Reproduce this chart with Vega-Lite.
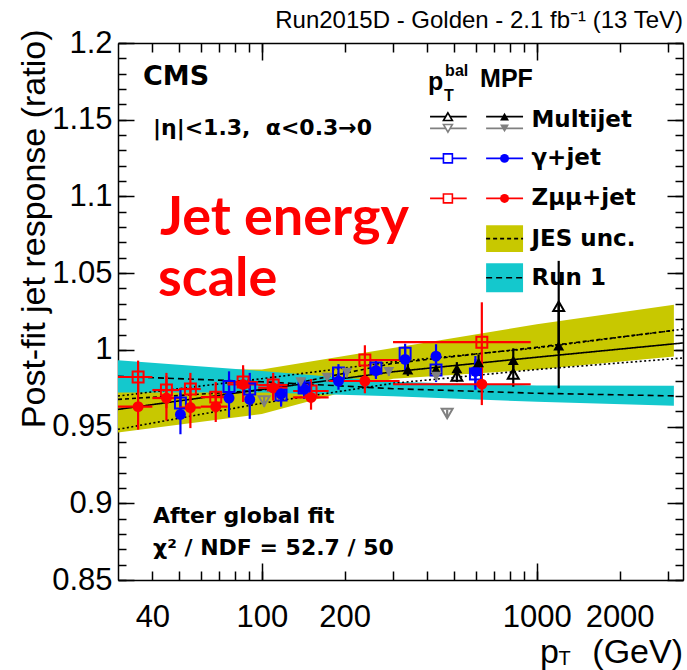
{
  "$schema": "https://vega.github.io/schema/vega-lite/v6.json",
  "autosize": {"type": "none"},
  "padding": {"left": 118, "top": 43, "right": 4, "bottom": 90},
  "width": 565,
  "height": 537,
  "title": {"text": "Run2015D - Golden - 2.1 fb⁻¹ (13 TeV)", "anchor": "end", "frame": "group", "orient": "top", "offset": -6, "fontSize": 24, "font": "Liberation Sans", "fontWeight": "normal", "color": "#000"},
  "config": {
    "view": {"stroke": null},
    "axis": {"grid": false, "domainColor": "#000", "domainWidth": 1.5, "tickColor": "#000", "tickWidth": 1.5, "labelFont": "Liberation Sans", "labelFontSize": 31, "labelColor": "#000", "titleFont": "Liberation Sans", "titleColor": "#000", "titleFontWeight": "normal", "labelOverlap": false, "labelFlush": false},
    "text": {"font": "Liberation Sans", "color": "#000"}
  },
  "datasets": {
    "points": [
      {"series": "Zμμ+jet", "method": "MPF", "pt": 35.5, "r": 0.963, "lo": 0.948, "hi": 0.978, "xlo": 30, "xhi": 40},
      {"series": "Zμμ+jet", "method": "MPF", "pt": 45, "r": 0.9686, "lo": 0.954, "hi": 0.983, "xlo": 40, "xhi": 50},
      {"series": "Zμμ+jet", "method": "MPF", "pt": 55, "r": 0.9624, "lo": 0.949, "hi": 0.975, "xlo": 50, "xhi": 60},
      {"series": "Zμμ+jet", "method": "MPF", "pt": 68, "r": 0.963, "lo": 0.953, "hi": 0.973, "xlo": 60, "xhi": 75},
      {"series": "Zμμ+jet", "method": "MPF", "pt": 85.5, "r": 0.9775, "lo": 0.966, "hi": 0.988, "xlo": 75, "xhi": 97},
      {"series": "Zμμ+jet", "method": "MPF", "pt": 110, "r": 0.9753, "lo": 0.967, "hi": 0.983, "xlo": 97, "xhi": 124},
      {"series": "Zμμ+jet", "method": "MPF", "pt": 151, "r": 0.969, "lo": 0.961, "hi": 0.977, "xlo": 130, "xhi": 175},
      {"series": "Zμμ+jet", "method": "MPF", "pt": 237, "r": 0.9797, "lo": 0.9717, "hi": 0.9877, "xlo": 175, "xhi": 317},
      {"series": "Zμμ+jet", "method": "MPF", "pt": 631, "r": 0.9776, "lo": 0.964, "hi": 0.9907, "xlo": 300, "xhi": 950},
      {"series": "Zμμ+jet", "method": "pTbal", "pt": 35.5, "r": 0.9823, "lo": 0.972, "hi": 0.993, "xlo": 30, "xhi": 40},
      {"series": "Zμμ+jet", "method": "pTbal", "pt": 45, "r": 0.9738, "lo": 0.962, "hi": 0.985, "xlo": 40, "xhi": 50},
      {"series": "Zμμ+jet", "method": "pTbal", "pt": 55, "r": 0.9745, "lo": 0.964, "hi": 0.985, "xlo": 50, "xhi": 60},
      {"series": "Zμμ+jet", "method": "pTbal", "pt": 68, "r": 0.9692, "lo": 0.959, "hi": 0.979, "xlo": 60, "xhi": 75},
      {"series": "Zμμ+jet", "method": "pTbal", "pt": 85.5, "r": 0.979, "lo": 0.968, "hi": 0.99, "xlo": 75, "xhi": 97},
      {"series": "Zμμ+jet", "method": "pTbal", "pt": 110, "r": 0.9771, "lo": 0.969, "hi": 0.985, "xlo": 97, "xhi": 124},
      {"series": "Zμμ+jet", "method": "pTbal", "pt": 151, "r": 0.9732, "lo": 0.965, "hi": 0.981, "xlo": 130, "xhi": 175},
      {"series": "Zμμ+jet", "method": "pTbal", "pt": 237, "r": 0.9934, "lo": 0.983, "hi": 1.003, "xlo": 175, "xhi": 317},
      {"series": "Zμμ+jet", "method": "pTbal", "pt": 631, "r": 1.005, "lo": 0.979, "hi": 1.031, "xlo": 300, "xhi": 950},
      {"series": "γ+jet", "method": "MPF", "pt": 50.6, "r": 0.9579, "lo": 0.945, "hi": 0.972, "xlo": null, "xhi": null},
      {"series": "γ+jet", "method": "MPF", "pt": 76, "r": 0.9686, "lo": 0.956, "hi": 0.981, "xlo": null, "xhi": null},
      {"series": "γ+jet", "method": "MPF", "pt": 90.4, "r": 0.9677, "lo": 0.955, "hi": 0.98, "xlo": null, "xhi": null},
      {"series": "γ+jet", "method": "MPF", "pt": 117.5, "r": 0.9712, "lo": 0.964, "hi": 0.978, "xlo": null, "xhi": null},
      {"series": "γ+jet", "method": "MPF", "pt": 142.5, "r": 0.9745, "lo": 0.968, "hi": 0.9807, "xlo": null, "xhi": null},
      {"series": "γ+jet", "method": "MPF", "pt": 190, "r": 0.9797, "lo": 0.974, "hi": 0.985, "xlo": null, "xhi": null},
      {"series": "γ+jet", "method": "MPF", "pt": 260, "r": 0.9865, "lo": 0.981, "hi": 0.991, "xlo": null, "xhi": null},
      {"series": "γ+jet", "method": "MPF", "pt": 332, "r": 0.9938, "lo": 0.9867, "hi": 1.0007, "xlo": null, "xhi": null},
      {"series": "γ+jet", "method": "MPF", "pt": 430, "r": 0.9959, "lo": 0.988, "hi": 1.0037, "xlo": null, "xhi": null},
      {"series": "γ+jet", "method": "MPF", "pt": 598, "r": 0.986, "lo": 0.976, "hi": 0.996, "xlo": null, "xhi": null},
      {"series": "γ+jet", "method": "pTbal", "pt": 50.6, "r": 0.9653, "lo": 0.955, "hi": 0.975, "xlo": null, "xhi": null},
      {"series": "γ+jet", "method": "pTbal", "pt": 76, "r": 0.9761, "lo": 0.966, "hi": 0.986, "xlo": null, "xhi": null},
      {"series": "γ+jet", "method": "pTbal", "pt": 90.4, "r": 0.9745, "lo": 0.964, "hi": 0.985, "xlo": null, "xhi": null},
      {"series": "γ+jet", "method": "pTbal", "pt": 117.5, "r": 0.9705, "lo": 0.963, "hi": 0.977, "xlo": null, "xhi": null},
      {"series": "γ+jet", "method": "pTbal", "pt": 142.5, "r": 0.9751, "lo": 0.968, "hi": 0.9817, "xlo": null, "xhi": null},
      {"series": "γ+jet", "method": "pTbal", "pt": 190, "r": 0.9849, "lo": 0.979, "hi": 0.9907, "xlo": null, "xhi": null},
      {"series": "γ+jet", "method": "pTbal", "pt": 260, "r": 0.9882, "lo": 0.982, "hi": 0.994, "xlo": null, "xhi": null},
      {"series": "γ+jet", "method": "pTbal", "pt": 332, "r": 0.9978, "lo": 0.991, "hi": 1.004, "xlo": null, "xhi": null},
      {"series": "γ+jet", "method": "pTbal", "pt": 430, "r": 0.9869, "lo": 0.979, "hi": 0.9947, "xlo": null, "xhi": null},
      {"series": "γ+jet", "method": "pTbal", "pt": 598, "r": 0.9843, "lo": 0.974, "hi": 0.994, "xlo": null, "xhi": null},
      {"series": "Multijet", "method": "MPF", "pt": 339.6, "r": 0.987, "lo": 0.983, "hi": 0.991, "xlo": null, "xhi": null},
      {"series": "Multijet", "method": "MPF", "pt": 430, "r": 0.9873, "lo": 0.984, "hi": 0.99, "xlo": null, "xhi": null},
      {"series": "Multijet", "method": "MPF", "pt": 512, "r": 0.9879, "lo": 0.984, "hi": 0.992, "xlo": null, "xhi": null},
      {"series": "Multijet", "method": "MPF", "pt": 614, "r": 0.9918, "lo": 0.986, "hi": 0.997, "xlo": null, "xhi": null},
      {"series": "Multijet", "method": "MPF", "pt": 821, "r": 0.9932, "lo": 0.985, "hi": 1.001, "xlo": null, "xhi": null},
      {"series": "Multijet", "method": "MPF", "pt": 1201, "r": 1.0027, "lo": 0.975, "hi": 1.03, "xlo": null, "xhi": null},
      {"series": "Multijet", "method": "pTbal", "pt": 512, "r": 0.983, "lo": 0.979, "hi": 0.987, "xlo": null, "xhi": null},
      {"series": "Multijet", "method": "pTbal", "pt": 821, "r": 0.9843, "lo": 0.976, "hi": 0.992, "xlo": null, "xhi": null},
      {"series": "Multijet", "method": "pTbal", "pt": 1201, "r": 1.0284, "lo": 0.998, "hi": 1.058, "xlo": null, "xhi": null},
      {"series": "Multijet (recoil)", "method": "MPF", "pt": 138.6, "r": 0.979, "lo": 0.976, "hi": 0.982, "xlo": null, "xhi": null},
      {"series": "Multijet (recoil)", "method": "MPF", "pt": 172.7, "r": 0.982, "lo": 0.979, "hi": 0.985, "xlo": null, "xhi": null},
      {"series": "Multijet (recoil)", "method": "MPF", "pt": 203.9, "r": 0.9852, "lo": 0.982, "hi": 0.988, "xlo": null, "xhi": null},
      {"series": "Multijet (recoil)", "method": "MPF", "pt": 289.6, "r": 0.9858, "lo": 0.983, "hi": 0.989, "xlo": null, "xhi": null},
      {"series": "Multijet (recoil)", "method": "MPF", "pt": 430.5, "r": 0.9827, "lo": 0.98, "hi": 0.986, "xlo": null, "xhi": null},
      {"series": "Multijet (recoil)", "method": "pTbal", "pt": 102, "r": 0.9666, "lo": 0.963, "hi": 0.97, "xlo": null, "xhi": null},
      {"series": "Multijet (recoil)", "method": "pTbal", "pt": 472, "r": 0.9585, "lo": 0.956, "hi": 0.961, "xlo": null, "xhi": null}
    ],
    "bands": [
      {"band": "JES unc.", "pt": 30, "lo": 0.9462, "hi": 0.9872},
      {"band": "JES unc.", "pt": 100, "lo": 0.9582, "hi": 0.9872},
      {"band": "JES unc.", "pt": 300, "lo": 0.9812, "hi": 1.0012},
      {"band": "JES unc.", "pt": 1000, "lo": 0.9872, "hi": 1.0167},
      {"band": "JES unc.", "pt": 3150, "lo": 0.9957, "hi": 1.0294},
      {"band": "Run 1", "pt": 30, "lo": 0.9722, "hi": 0.9932},
      {"band": "Run 1", "pt": 100, "lo": 0.9722, "hi": 0.9862},
      {"band": "Run 1", "pt": 300, "lo": 0.9697, "hi": 0.9792},
      {"band": "Run 1", "pt": 1000, "lo": 0.9662, "hi": 0.9767},
      {"band": "Run 1", "pt": 3150, "lo": 0.9636, "hi": 0.9766}
    ],
    "curves": [
      {"curve": "fit", "pt": 30, "r": 0.9612},
      {"curve": "fit", "pt": 100, "r": 0.9742},
      {"curve": "fit", "pt": 300, "r": 0.9857},
      {"curve": "fit", "pt": 1000, "r": 0.9952},
      {"curve": "fit", "pt": 3400, "r": 1.0045},
      {"curve": "JES unc.", "pt": 30, "r": 0.9677},
      {"curve": "JES unc.", "pt": 100, "r": 0.9737},
      {"curve": "JES unc.", "pt": 300, "r": 0.9912},
      {"curve": "JES unc.", "pt": 1000, "r": 1.0017},
      {"curve": "JES unc.", "pt": 3150, "r": 1.0127},
      {"curve": "dotA", "pt": 30, "r": 0.9699},
      {"curve": "dotA", "pt": 100, "r": 0.9812},
      {"curve": "dotA", "pt": 300, "r": 0.9922},
      {"curve": "dotA", "pt": 1000, "r": 1.0012},
      {"curve": "dotA", "pt": 3400, "r": 1.0135},
      {"curve": "dotB", "pt": 30, "r": 0.9482},
      {"curve": "dotB", "pt": 100, "r": 0.9652},
      {"curve": "dotB", "pt": 300, "r": 0.9782},
      {"curve": "dotB", "pt": 1000, "r": 0.9872},
      {"curve": "dotB", "pt": 3400, "r": 0.9947},
      {"curve": "Run 1", "pt": 30, "r": 0.9827},
      {"curve": "Run 1", "pt": 100, "r": 0.9792},
      {"curve": "Run 1", "pt": 300, "r": 0.9747},
      {"curve": "Run 1", "pt": 1000, "r": 0.9717},
      {"curve": "Run 1", "pt": 3150, "r": 0.97}
    ],
    "legendLines": [
      {"series": "Multijet", "method": "pTbal", "x1": 409, "x2": 556, "xs": 475, "y": 1.152},
      {"series": "Multijet (recoil)", "method": "pTbal", "x1": 409, "x2": 556, "xs": 475, "y": 1.1444},
      {"series": "γ+jet", "method": "pTbal", "x1": 409, "x2": 556, "xs": 475, "y": 1.1248},
      {"series": "Zμμ+jet", "method": "pTbal", "x1": 409, "x2": 556, "xs": 475, "y": 1.0987},
      {"series": "Multijet", "method": "MPF", "x1": 654, "x2": 891, "xs": 763, "y": 1.152},
      {"series": "Multijet (recoil)", "method": "MPF", "x1": 654, "x2": 891, "xs": 763, "y": 1.1444},
      {"series": "γ+jet", "method": "MPF", "x1": 654, "x2": 891, "xs": 763, "y": 1.1248},
      {"series": "Zμμ+jet", "method": "MPF", "x1": 654, "x2": 891, "xs": 763, "y": 1.0987}
    ],
    "legendBoxes": [
      {"band": "JES unc.", "x1": 654, "x2": 891, "lo": 1.0638, "hi": 1.0812, "mid": 1.0725},
      {"band": "Run 1", "x1": 654, "x2": 891, "lo": 1.0375, "hi": 1.0564, "mid": 1.047}
    ],
    "texts": [
      {"role": "cms", "label": "CMS", "pt": 37, "r": 1.1727},
      {"role": "note", "label": "|η|<1.3,\u00a0 α<0.3→0", "pt": 40.2, "r": 1.14},
      {"role": "note", "label": "After global fit", "pt": 40.2, "r": 0.8873},
      {"role": "note", "label": "χ² / NDF = 52.7 / 50", "pt": 40.2, "r": 0.8664},
      {"role": "jes", "label": "Jet energy", "pt": 42.6, "r": 1.0746},
      {"role": "jes", "label": "scale", "pt": 41.9, "r": 1.0353},
      {"role": "legend", "label": "Multijet", "pt": 956, "r": 1.1498},
      {"role": "legend", "label": "γ+jet", "pt": 956, "r": 1.1248},
      {"role": "legend", "label": "Zμμ+jet", "pt": 956, "r": 1.0987},
      {"role": "legend", "label": "JES unc.", "pt": 956, "r": 1.0725},
      {"role": "legend", "label": "Run 1", "pt": 956, "r": 1.0469},
      {"role": "hdr", "label": "p", "pt": 402, "r": 1.1694},
      {"role": "hdr", "label": "MPF", "pt": 622, "r": 1.1714},
      {"role": "sup", "label": "bal", "pt": 464, "r": 1.1786},
      {"role": "sup", "label": "T", "pt": 460, "r": 1.1622},
      {"role": "xt", "label": "p", "pt": 1027, "r": 0.796},
      {"role": "xtR", "label": "(GeV)", "pt": 3400, "r": 0.796},
      {"role": "xtSub", "label": "T", "pt": 1200, "r": 0.7947}
    ]
  },
  "resolve": {"scale": {"shape": "independent", "size": "independent"}, "axis": {"x": "independent", "y": "independent"}},
  "layer": [
    {
      "data": {"name": "bands"},
      "transform": [{"filter": "datum.band === 'JES unc.'"}],
      "mark": {"type": "area", "color": "#c8c800", "opacity": 1},
      "encoding": {
        "x": {"field": "pt", "type": "quantitative", "scale": {"type": "log", "domain": [30, 3400], "nice": false},
          "axis": {"orient": "bottom", "values": [40, 50, 60, 70, 80, 90, 100, 200, 300, 400, 500, 600, 700, 800, 900, 1000, 2000, 3000], "tickSize": -9, "format": "d", "labelExpr": "indexof([40,100,200,1000,2000], datum.value) >= 0 ? datum.label : ''", "labelPadding": 31, "labelFontSize": 31, "title": null}},
        "y": {"field": "lo", "type": "quantitative", "scale": {"domain": [0.85, 1.2], "nice": false, "zero": false},
          "axis": {"orient": "left", "values": [0.85, 0.86, 0.87, 0.88, 0.89, 0.9, 0.91, 0.92, 0.93, 0.94, 0.95, 0.96, 0.97, 0.98, 0.99, 1, 1.01, 1.02, 1.03, 1.04, 1.05, 1.06, 1.07, 1.08, 1.09, 1.1, 1.11, 1.12, 1.13, 1.14, 1.15, 1.16, 1.17, 1.18, 1.19, 1.2], "tickSize": -8, "format": "~g", "labelExpr": "indexof([0.85,0.9,0.95,1,1.05,1.1,1.15,1.2], datum.value) >= 0 ? datum.label : ''", "labelPadding": 14, "title": "Post-fit jet response (ratio)", "titleFontSize": 34, "titleX": -84, "titleY": -14, "titleAlign": "right", "titleAngle": 270, "titleBaseline": "middle"}},
        "y2": {"field": "hi"}
      }
    },
    {
      "data": {"name": "bands"},
      "transform": [{"filter": "datum.band === 'Run 1'"}],
      "mark": {"type": "area", "color": "#14c8cd", "opacity": 1},
      "encoding": {
        "x": {"field": "pt", "type": "quantitative", "scale": {"type": "log", "domain": [30, 3400], "nice": false},
          "axis": {"orient": "bottom", "values": [100, 1000], "tickSize": -17, "labels": false, "domain": false, "title": null}},
        "y": {"field": "lo", "type": "quantitative", "scale": {"domain": [0.85, 1.2], "nice": false, "zero": false},
          "axis": {"orient": "left", "values": [0.85, 0.9, 0.95, 1, 1.05, 1.1, 1.15, 1.2], "tickSize": -16, "labels": false, "domain": false, "title": null}},
        "y2": {"field": "hi"}
      }
    },
    {
      "data": {"name": "curves"},
      "mark": {"type": "line", "color": "#000", "strokeWidth": 1.6},
      "encoding": {
        "x": {"field": "pt", "type": "quantitative", "scale": {"type": "log", "domain": [30, 3400], "nice": false},
          "axis": {"orient": "top", "values": [40, 50, 60, 70, 80, 90, 100, 200, 300, 400, 500, 600, 700, 800, 900, 1000, 2000, 3000], "tickSize": -9, "labels": false, "title": null}},
        "y": {"field": "r", "type": "quantitative", "scale": {"domain": [0.85, 1.2], "nice": false, "zero": false},
          "axis": {"orient": "right", "values": [0.85, 0.86, 0.87, 0.88, 0.89, 0.9, 0.91, 0.92, 0.93, 0.94, 0.95, 0.96, 0.97, 0.98, 0.99, 1, 1.01, 1.02, 1.03, 1.04, 1.05, 1.06, 1.07, 1.08, 1.09, 1.1, 1.11, 1.12, 1.13, 1.14, 1.15, 1.16, 1.17, 1.18, 1.19, 1.2], "tickSize": -8, "labels": false, "title": null}},
        "strokeDash": {"field": "curve", "type": "nominal", "legend": null, "scale": {"domain": ["fit", "JES unc.", "Run 1", "dotA", "dotB"], "range": [[1, 0], [4, 3], [6, 4], [2, 2.5], [2, 2.5]]}}
      }
    },
    {
      "data": {"name": "points"},
      "mark": {"type": "rule", "strokeWidth": 2.2},
      "encoding": {
        "x": {"field": "pt", "type": "quantitative", "scale": {"type": "log", "domain": [30, 3400], "nice": false},
          "axis": {"orient": "top", "values": [100, 1000], "tickSize": -17, "labels": false, "domain": false, "title": null}},
        "y": {"field": "lo", "type": "quantitative", "scale": {"domain": [0.85, 1.2], "nice": false, "zero": false},
          "axis": {"orient": "right", "values": [0.85, 0.9, 0.95, 1, 1.05, 1.1, 1.15, 1.2], "tickSize": -16, "labels": false, "domain": false, "title": null}},
        "y2": {"field": "hi"},
        "color": {"field": "series", "type": "nominal", "legend": null, "scale": {"domain": ["Multijet", "Multijet (recoil)", "γ+jet", "Zμμ+jet"], "range": ["#000000", "#808080", "#0000ff", "#ff0000"]}}
      }
    },
    {
      "data": {"name": "points"},
      "transform": [{"filter": "datum.xlo != null"}],
      "mark": {"type": "rule", "strokeWidth": 2.2},
      "encoding": {
        "x": {"field": "xlo", "type": "quantitative", "scale": {"type": "log", "domain": [30, 3400], "nice": false}, "axis": null},
        "x2": {"field": "xhi"},
        "y": {"field": "r", "type": "quantitative", "scale": {"domain": [0.85, 1.2], "nice": false, "zero": false}, "axis": null},
        "color": {"field": "series", "type": "nominal", "legend": null}
      }
    },
    {
      "data": {"name": "points"},
      "transform": [{"filter": "datum.method === 'pTbal'"}],
      "mark": {"type": "point", "filled": false, "strokeWidth": 2, "opacity": 1},
      "encoding": {
        "x": {"field": "pt", "type": "quantitative", "scale": {"type": "log", "domain": [30, 3400], "nice": false}, "axis": null},
        "y": {"field": "r", "type": "quantitative", "scale": {"domain": [0.85, 1.2], "nice": false, "zero": false}, "axis": null},
        "color": {"field": "series", "type": "nominal", "legend": null},
        "shape": {"field": "series", "type": "nominal", "legend": null, "scale": {"domain": ["Multijet", "Multijet (recoil)", "γ+jet", "Zμμ+jet"], "range": ["triangle-up", "triangle-down", "square", "square"]}},
        "size": {"field": "series", "type": "nominal", "legend": null, "scale": {"domain": ["Multijet", "Multijet (recoil)", "γ+jet", "Zμμ+jet"], "range": [120, 120, 200, 200]}}
      }
    },
    {
      "data": {"name": "points"},
      "transform": [{"filter": "datum.method === 'MPF'"}],
      "mark": {"type": "point", "filled": true, "opacity": 1},
      "encoding": {
        "x": {"field": "pt", "type": "quantitative", "scale": {"type": "log", "domain": [30, 3400], "nice": false}, "axis": null},
        "y": {"field": "r", "type": "quantitative", "scale": {"domain": [0.85, 1.2], "nice": false, "zero": false}, "axis": null},
        "color": {"field": "series", "type": "nominal", "legend": null},
        "shape": {"field": "series", "type": "nominal", "legend": null, "scale": {"domain": ["Multijet", "Multijet (recoil)", "γ+jet", "Zμμ+jet"], "range": ["triangle-up", "triangle-down", "circle", "circle"]}},
        "size": {"field": "series", "type": "nominal", "legend": null, "scale": {"domain": ["Multijet", "Multijet (recoil)", "γ+jet", "Zμμ+jet"], "range": [120, 120, 190, 160]}}
      }
    },
    {
      "data": {"name": "legendLines"},
      "mark": {"type": "rule", "strokeWidth": 1.8},
      "encoding": {
        "x": {"field": "x1", "type": "quantitative", "scale": {"type": "log", "domain": [30, 3400], "nice": false}, "axis": null},
        "x2": {"field": "x2"},
        "y": {"field": "y", "type": "quantitative", "scale": {"domain": [0.85, 1.2], "nice": false, "zero": false}, "axis": null},
        "color": {"field": "series", "type": "nominal", "legend": null}
      }
    },
    {
      "data": {"name": "legendLines"},
      "transform": [{"filter": "datum.method === 'pTbal'"}],
      "mark": {"type": "point", "filled": false, "strokeWidth": 1.6, "opacity": 1, "fill": "#ffffff"},
      "encoding": {
        "x": {"field": "xs", "type": "quantitative", "scale": {"type": "log", "domain": [30, 3400], "nice": false}, "axis": null},
        "y": {"field": "y", "type": "quantitative", "scale": {"domain": [0.85, 1.2], "nice": false, "zero": false}, "axis": null},
        "color": {"field": "series", "type": "nominal", "legend": null},
        "shape": {"field": "series", "type": "nominal", "legend": null, "scale": {"domain": ["Multijet", "Multijet (recoil)", "γ+jet", "Zμμ+jet"], "range": ["triangle-up", "triangle-down", "square", "square"]}},
        "size": {"field": "series", "type": "nominal", "legend": null, "scale": {"domain": ["Multijet", "Multijet (recoil)", "γ+jet", "Zμμ+jet"], "range": [80, 80, 140, 140]}}
      }
    },
    {
      "data": {"name": "legendLines"},
      "transform": [{"filter": "datum.method === 'MPF'"}],
      "mark": {"type": "point", "filled": true, "opacity": 1},
      "encoding": {
        "x": {"field": "xs", "type": "quantitative", "scale": {"type": "log", "domain": [30, 3400], "nice": false}, "axis": null},
        "y": {"field": "y", "type": "quantitative", "scale": {"domain": [0.85, 1.2], "nice": false, "zero": false}, "axis": null},
        "color": {"field": "series", "type": "nominal", "legend": null},
        "shape": {"field": "series", "type": "nominal", "legend": null, "scale": {"domain": ["Multijet", "Multijet (recoil)", "γ+jet", "Zμμ+jet"], "range": ["triangle-up", "triangle-down", "circle", "circle"]}},
        "size": {"field": "series", "type": "nominal", "legend": null, "scale": {"domain": ["Multijet", "Multijet (recoil)", "γ+jet", "Zμμ+jet"], "range": [80, 80, 160, 120]}}
      }
    },
    {
      "data": {"name": "legendBoxes"},
      "mark": {"type": "rect", "opacity": 1},
      "encoding": {
        "x": {"field": "x1", "type": "quantitative", "scale": {"type": "log", "domain": [30, 3400], "nice": false}, "axis": null},
        "x2": {"field": "x2"},
        "y": {"field": "lo", "type": "quantitative", "scale": {"domain": [0.85, 1.2], "nice": false, "zero": false}, "axis": null},
        "y2": {"field": "hi"},
        "fill": {"field": "band", "type": "nominal", "legend": null, "scale": {"domain": ["JES unc.", "Run 1"], "range": ["#c8c800", "#14c8cd"]}}
      }
    },
    {
      "data": {"name": "legendBoxes"},
      "mark": {"type": "rule", "color": "#000", "strokeWidth": 1.6},
      "encoding": {
        "x": {"field": "x1", "type": "quantitative", "scale": {"type": "log", "domain": [30, 3400], "nice": false}, "axis": null},
        "x2": {"field": "x2"},
        "y": {"field": "mid", "type": "quantitative", "scale": {"domain": [0.85, 1.2], "nice": false, "zero": false}, "axis": null},
        "strokeDash": {"field": "band", "type": "nominal", "legend": null}
      }
    },
    {
      "data": {"name": "texts"},
      "transform": [{"filter": "datum.role === 'legend'"}],
      "mark": {"type": "text", "align": "left", "baseline": "middle", "fontSize": 23, "fontWeight": "bold", "font": "DejaVu Sans"},
      "encoding": {
        "x": {"field": "pt", "type": "quantitative", "scale": {"type": "log", "domain": [30, 3400], "nice": false}, "axis": null},
        "y": {"field": "r", "type": "quantitative", "scale": {"domain": [0.85, 1.2], "nice": false, "zero": false}, "axis": null},
        "text": {"field": "label"}
      }
    },
    {
      "data": {"name": "texts"},
      "transform": [{"filter": "datum.role === 'cms'"}],
      "mark": {"type": "text", "align": "left", "baseline": "alphabetic", "fontSize": 27, "fontWeight": "bold", "font": "DejaVu Sans"},
      "encoding": {
        "x": {"field": "pt", "type": "quantitative", "scale": {"type": "log", "domain": [30, 3400], "nice": false}, "axis": null},
        "y": {"field": "r", "type": "quantitative", "scale": {"domain": [0.85, 1.2], "nice": false, "zero": false}, "axis": null},
        "text": {"field": "label"}
      }
    },
    {
      "data": {"name": "texts"},
      "transform": [{"filter": "datum.role === 'hdr'"}],
      "mark": {"type": "text", "align": "left", "baseline": "alphabetic", "fontSize": 25, "fontWeight": "bold"},
      "encoding": {
        "x": {"field": "pt", "type": "quantitative", "scale": {"type": "log", "domain": [30, 3400], "nice": false}, "axis": null},
        "y": {"field": "r", "type": "quantitative", "scale": {"domain": [0.85, 1.2], "nice": false, "zero": false}, "axis": null},
        "text": {"field": "label"}
      }
    },
    {
      "data": {"name": "texts"},
      "transform": [{"filter": "datum.role === 'sup'"}],
      "mark": {"type": "text", "align": "left", "baseline": "alphabetic", "fontSize": 16, "fontWeight": "bold"},
      "encoding": {
        "x": {"field": "pt", "type": "quantitative", "scale": {"type": "log", "domain": [30, 3400], "nice": false}, "axis": null},
        "y": {"field": "r", "type": "quantitative", "scale": {"domain": [0.85, 1.2], "nice": false, "zero": false}, "axis": null},
        "text": {"field": "label"}
      }
    },
    {
      "data": {"name": "texts"},
      "transform": [{"filter": "datum.role === 'note'"}],
      "mark": {"type": "text", "align": "left", "baseline": "alphabetic", "fontSize": 22, "fontWeight": "bold", "font": "DejaVu Sans"},
      "encoding": {
        "x": {"field": "pt", "type": "quantitative", "scale": {"type": "log", "domain": [30, 3400], "nice": false}, "axis": null},
        "y": {"field": "r", "type": "quantitative", "scale": {"domain": [0.85, 1.2], "nice": false, "zero": false}, "axis": null},
        "text": {"field": "label"}
      }
    },
    {
      "data": {"name": "texts"},
      "transform": [{"filter": "datum.role === 'jes'"}],
      "mark": {"type": "text", "align": "left", "baseline": "alphabetic", "fontSize": 54, "fontWeight": "bold", "font": "Lato", "color": "#ff0000"},
      "encoding": {
        "x": {"field": "pt", "type": "quantitative", "scale": {"type": "log", "domain": [30, 3400], "nice": false}, "axis": null},
        "y": {"field": "r", "type": "quantitative", "scale": {"domain": [0.85, 1.2], "nice": false, "zero": false}, "axis": null},
        "text": {"field": "label"}
      }
    },
    {
      "data": {"name": "texts"},
      "transform": [{"filter": "datum.role === 'xt'"}],
      "mark": {"type": "text", "align": "left", "baseline": "alphabetic", "fontSize": 34},
      "encoding": {
        "x": {"field": "pt", "type": "quantitative", "scale": {"type": "log", "domain": [30, 3400], "nice": false}, "axis": null},
        "y": {"field": "r", "type": "quantitative", "scale": {"domain": [0.85, 1.2], "nice": false, "zero": false}, "axis": null},
        "text": {"field": "label"}
      }
    },
    {
      "data": {"name": "texts"},
      "transform": [{"filter": "datum.role === 'xtR'"}],
      "mark": {"type": "text", "align": "right", "baseline": "alphabetic", "fontSize": 34},
      "encoding": {
        "x": {"field": "pt", "type": "quantitative", "scale": {"type": "log", "domain": [30, 3400], "nice": false}, "axis": null},
        "y": {"field": "r", "type": "quantitative", "scale": {"domain": [0.85, 1.2], "nice": false, "zero": false}, "axis": null},
        "text": {"field": "label"}
      }
    },
    {
      "data": {"name": "texts"},
      "transform": [{"filter": "datum.role === 'xtSub'"}],
      "mark": {"type": "text", "align": "left", "baseline": "alphabetic", "fontSize": 20},
      "encoding": {
        "x": {"field": "pt", "type": "quantitative", "scale": {"type": "log", "domain": [30, 3400], "nice": false}, "axis": null},
        "y": {"field": "r", "type": "quantitative", "scale": {"domain": [0.85, 1.2], "nice": false, "zero": false}, "axis": null},
        "text": {"field": "label"}
      }
    }
  ]
}
